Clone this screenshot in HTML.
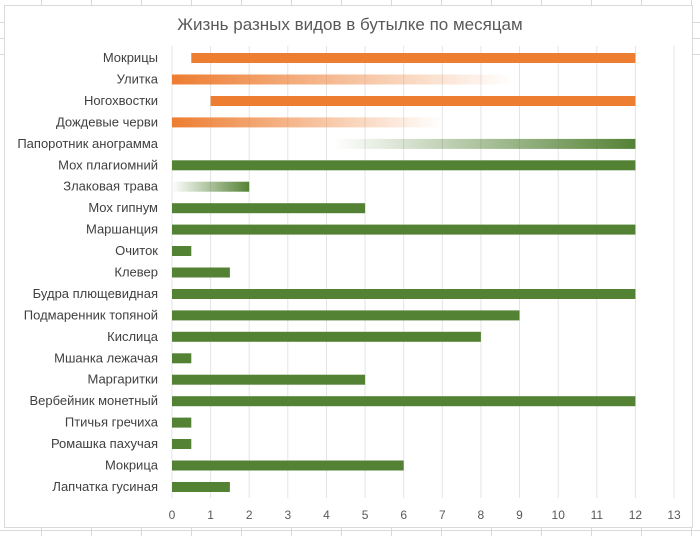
<!DOCTYPE html>
<html><head><meta charset="utf-8"><style>
html,body{margin:0;padding:0;background:#fff;}
svg text{font-family:"Liberation Sans Narrow","Liberation Sans","DejaVu Sans Condensed",sans-serif;}
</style></head><body>
<svg width="700" height="536" xmlns="http://www.w3.org/2000/svg">
<defs>
<linearGradient id="go" x1="0" x2="1" y1="0" y2="0"><stop offset="0" stop-color="#ED7D31"/><stop offset="1" stop-color="#ED7D31" stop-opacity="0"/></linearGradient>
<linearGradient id="gg" x1="0" x2="1" y1="0" y2="0"><stop offset="0" stop-color="#548235" stop-opacity="0"/><stop offset="1" stop-color="#548235"/></linearGradient>
</defs>
<g stroke="#d9d9d9" stroke-width="1">
<line x1="41.5" y1="0" x2="41.5" y2="536"/><line x1="91.5" y1="0" x2="91.5" y2="536"/><line x1="141.5" y1="0" x2="141.5" y2="536"/><line x1="191.5" y1="0" x2="191.5" y2="536"/><line x1="241.5" y1="0" x2="241.5" y2="536"/><line x1="291.5" y1="0" x2="291.5" y2="536"/><line x1="341.5" y1="0" x2="341.5" y2="536"/><line x1="391.5" y1="0" x2="391.5" y2="536"/><line x1="441.5" y1="0" x2="441.5" y2="536"/><line x1="491.5" y1="0" x2="491.5" y2="536"/><line x1="541.5" y1="0" x2="541.5" y2="536"/><line x1="591.5" y1="0" x2="591.5" y2="536"/><line x1="641.5" y1="0" x2="641.5" y2="536"/><line x1="691.5" y1="0" x2="691.5" y2="536"/>
<line x1="0" y1="22.5" x2="700" y2="22.5"/><line x1="0" y1="38.5" x2="700" y2="38.5"/><line x1="0" y1="54.5" x2="700" y2="54.5"/><line x1="0" y1="530.5" x2="700" y2="530.5"/>
</g>
<rect x="4.5" y="5.5" width="688" height="522" fill="#fff" stroke="#d9d9d9"/>
<text x="350" y="30" font-size="17" fill="#595959" text-anchor="middle">Жизнь разных видов в бутылке по месяцам</text>
<g stroke="#e4e4e4" stroke-width="1">
<line x1="172" y1="46" x2="172" y2="498"/><line x1="210.6" y1="46" x2="210.6" y2="498"/><line x1="249.2" y1="46" x2="249.2" y2="498"/><line x1="287.8" y1="46" x2="287.8" y2="498"/><line x1="326.5" y1="46" x2="326.5" y2="498"/><line x1="365.1" y1="46" x2="365.1" y2="498"/><line x1="403.7" y1="46" x2="403.7" y2="498"/><line x1="442.3" y1="46" x2="442.3" y2="498"/><line x1="480.9" y1="46" x2="480.9" y2="498"/><line x1="519.5" y1="46" x2="519.5" y2="498"/><line x1="558.2" y1="46" x2="558.2" y2="498"/><line x1="596.8" y1="46" x2="596.8" y2="498"/><line x1="635.4" y1="46" x2="635.4" y2="498"/><line x1="674" y1="46" x2="674" y2="498"/>
</g>
<g font-size="12" fill="#595959" text-anchor="middle">
<text x="172" y="519">0</text><text x="210.6" y="519">1</text><text x="249.2" y="519">2</text><text x="287.8" y="519">3</text><text x="326.5" y="519">4</text><text x="365.1" y="519">5</text><text x="403.7" y="519">6</text><text x="442.3" y="519">7</text><text x="480.9" y="519">8</text><text x="519.5" y="519">9</text><text x="558.2" y="519">10</text><text x="596.8" y="519">11</text><text x="635.4" y="519">12</text><text x="674" y="519">13</text>
</g>
<g font-size="13" fill="#404040" text-anchor="end">
<text x="158" y="62">Мокрицы</text>
<text x="158" y="83.5">Улитка</text>
<text x="158" y="105">Ногохвостки</text>
<text x="158" y="126.4">Дождевые черви</text>
<text x="158" y="147.9">Папоротник анограмма</text>
<text x="158" y="169.3">Мох плагиомний</text>
<text x="158" y="190.7">Злаковая трава</text>
<text x="158" y="212.2">Мох гипнум</text>
<text x="158" y="233.6">Маршанция</text>
<text x="158" y="255">Очиток</text>
<text x="158" y="276.5">Клевер</text>
<text x="158" y="298">Будра плющевидная</text>
<text x="158" y="319.4">Подмаренник топяной</text>
<text x="158" y="340.8">Кислица</text>
<text x="158" y="362.3">Мшанка лежачая</text>
<text x="158" y="383.7">Маргаритки</text>
<text x="158" y="405.2">Вербейник монетный</text>
<text x="158" y="426.6">Птичья гречиха</text>
<text x="158" y="448">Ромашка пахучая</text>
<text x="158" y="469.5">Мокрица</text>
<text x="158" y="491">Лапчатка гусиная</text>
</g>
<g>
<rect x="191.3" y="53" width="444.1" height="10" fill="#ED7D31"/>
<rect x="172" y="74.5" width="340" height="10" fill="url(#go)"/>
<rect x="210.6" y="96" width="424.8" height="10" fill="#ED7D31"/>
<rect x="172" y="117.4" width="270" height="10" fill="url(#go)"/>
<rect x="335" y="138.9" width="300.4" height="10" fill="url(#gg)"/>
<rect x="172" y="160.3" width="463.4" height="10" fill="#548235"/>
<rect x="172" y="181.7" width="77.2" height="10" fill="url(#gg)"/>
<rect x="172" y="203.2" width="193.1" height="10" fill="#548235"/>
<rect x="172" y="224.6" width="463.4" height="10" fill="#548235"/>
<rect x="172" y="246" width="19.3" height="10" fill="#548235"/>
<rect x="172" y="267.5" width="57.9" height="10" fill="#548235"/>
<rect x="172" y="289" width="463.4" height="10" fill="#548235"/>
<rect x="172" y="310.4" width="347.5" height="10" fill="#548235"/>
<rect x="172" y="331.8" width="308.9" height="10" fill="#548235"/>
<rect x="172" y="353.3" width="19.3" height="10" fill="#548235"/>
<rect x="172" y="374.7" width="193.1" height="10" fill="#548235"/>
<rect x="172" y="396.2" width="463.4" height="10" fill="#548235"/>
<rect x="172" y="417.6" width="19.3" height="10" fill="#548235"/>
<rect x="172" y="439" width="19.3" height="10" fill="#548235"/>
<rect x="172" y="460.5" width="231.7" height="10" fill="#548235"/>
<rect x="172" y="482" width="57.9" height="10" fill="#548235"/>
</g>
</svg>
</body></html>
